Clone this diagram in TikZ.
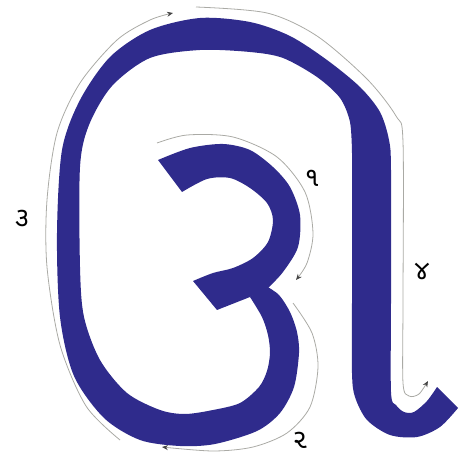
\documentclass[tikz,border=0pt]{standalone}
\usepackage{fontspec}
\newfontfamily\gujfont[Script=Gujarati]{Noto Sans Gujarati UI}
\usetikzlibrary{arrows.meta}
\definecolor{glyphblue}{RGB}{47,43,140}
\definecolor{guidegray}{RGB}{170,170,165}
\definecolor{tipgray}{RGB}{70,70,70}
\tikzset{
  glyph/.style={fill=glyphblue},
  guide/.style={draw=guidegray, line width=0.8pt, -{Stealth[length=6pt,width=5pt,color=tipgray]}},
  numlabel/.style={font=\gujfont\fontsize{27}{30}\selectfont, text=black, inner sep=0pt}
}
\begin{document}
\begin{tikzpicture}[x=1pt,y=-1pt]
\useasboundingbox (0,0) rectangle (461,457);
% upper bowl of the inner "3"
\fill[glyph] plot[smooth] coordinates {(158,160) (190,148) (223,144) (250,150) (273,167) (290,187) (300,215) (298,247) (283,272) (268,288)}
  -- (250,297) -- (217,310) -- (193,281)
  -- plot[smooth] coordinates {(193,281) (213,273) (233,268) (253,258) (268,242) (273,220) (267,203) (250,188) (230,178) (207,179) (182,192)}
  -- cycle;
% main stroke: lower bowl, outer loop, right stem with hook
\fill[glyph] plot[smooth] coordinates {(266,286) (279,295) (290,312) (297,332) (299,353) (294,387) (280,413) (257,431) (215,444) (180,446) (140,440) (104,418) (74,376) (60,317) (57,233) (62,150) (80,100) (110,57) (150,30) (200,18) (250,22) (290,36) (327,60) (360,87) (380,112) (389,140) (391,170) (391,300) (391,392) (396,405) (404,412) (414,412) (427,401) (437,387)}
  -- (458,408)
  -- plot[smooth] coordinates {(458,408) (440,427) (417,437) (390,435) (367,420) (355,397) (352,373) (352,300) (352,153)}
  -- plot[smooth] coordinates {(352,153) (350,122) (340,98) (317,77) (283,58) (250,52) (200,50) (150,58) (112,86) (89,125) (80,167) (80,267) (84,317) (100,360) (127,393) (160,410) (185,414) (213,410) (240,403) (259,387) (267,371) (270,353) (268,335) (262,317) (250,297)}
  -- cycle;
% guide strokes
\draw[guide] plot[smooth] coordinates {(157,143) (187,135) (233,137) (277,157) (305,192) (313,233) (307,263) (296,280)};
\draw[guide] plot[smooth] coordinates {(293,303) (312,333) (318,367) (310,407) (287,433) (253,447) (213,451) (162,447)};
\draw[guide] plot[smooth] coordinates {(120,440) (86,406) (60,345) (47,267) (47,200) (57,133) (80,83) (117,40) (150,20) (173,13)};
\draw[guide] plot[smooth] coordinates {(196,7) (267,13) (317,36) (367,79) (396,116) (403,142) (403,300) (403,383) (409,396) (419,394) (428,381)};
% stroke numbers
\node[numlabel] (n1) at (312,178) {૧};
\node[numlabel] (n2) at (300,440) {૨};
\node[numlabel] (n3) at (22,218) {૩};
\node[numlabel] (n4) at (422,271) {૪};
\end{tikzpicture}
\end{document}
